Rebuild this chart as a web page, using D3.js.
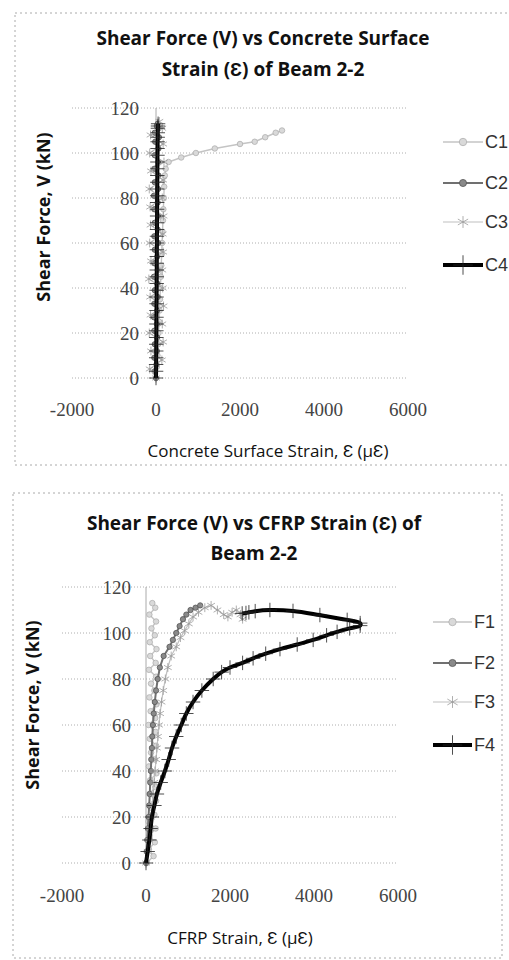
<!DOCTYPE html>
<html lang="en">
<head>
<meta charset="UTF-8">
<title>Beam 2-2 strains</title>
<script src="https://d3js.org/d3.v7.min.js"></script>
<style>
    body { margin: 0; background: #fff; }
    .title { font-family: "Open Sans", sans-serif; font-weight: 700; fill: #111; }
    .axis-title { font-family: "Open Sans", sans-serif; fill: #111; }
    .tick-label { font-family: "Liberation Serif", serif; fill: #444; font-size: 19px; }
    .legend-label { font-family: "Liberation Sans", sans-serif; fill: #333; font-size: 18px; }
</style>
</head>
<body>
<svg id="main" width="509" height="960"></svg>
<script>
    // ---- data: shear force V (kN) and strain (micro-strain) for each gauge ----
    let yTicks = [0, 20, 40, 60, 80, 100, 120];
    let xTicks = [-2000, 0, 2000, 4000, 6000];

    // concrete surface gauges
    let c1V = [0, 5, 10, 15, 20, 25, 30, 35, 40, 45, 50, 55, 60, 65, 70, 75, 80, 85, 90, 93, 96, 98, 100, 102, 104, 105, 107, 109, 110];
    let c1E = [0, 20, 35, 50, 60, 75, 85, 95, 105, 115, 125, 135, 145, 155, 165, 175, 185, 195, 210, 230, 300, 600, 950, 1400, 2000, 2350, 2600, 2850, 3000];
    let c2V = [0, 3, 6, 9, 12, 15, 18, 21, 24, 27, 30, 33, 36, 39, 42, 45, 48, 51, 54, 57, 60, 63, 66, 69, 72, 75, 78, 81, 84, 87, 90, 93, 96, 99, 102, 105, 107, 109, 111, 112, 113];
    let c2E = [0, -30, 10, -40, 20, -30, 30, -40, 20, -50, 30, -40, 40, -30, 30, -50, 40, -40, 30, -30, 50, -40, 40, -30, 50, -40, 40, -50, 50, -30, 60, -40, 50, -30, 60, -20, 70, -30, 60, 20, 40];
    let c3V = [0, 4, 8, 12, 16, 20, 24, 28, 32, 36, 40, 44, 48, 52, 56, 60, 64, 68, 72, 76, 80, 84, 88, 92, 96, 100, 104, 108, 111, 114];
    let c3E = [0, -150, 140, -120, 170, -160, 150, -130, 180, -140, 160, -170, 150, -120, 170, -150, 160, -130, 180, -140, 150, -160, 170, -120, 190, -150, 170, -130, 150, 80];
    let c4V = [0, 3, 6, 9, 12, 15, 18, 21, 24, 27, 30, 33, 36, 39, 42, 45, 48, 51, 54, 57, 60, 63, 66, 69, 72, 75, 78, 81, 84, 87, 90, 93, 96, 99, 102, 105, 107, 109, 111, 112, 113];
    let c4E = [0, 2, 3, 5, 6, 7, 8, 9, 10, 11, 12, 13, 14, 15, 16, 17, 18, 19, 20, 21, 22, 23, 24, 25, 26, 27, 28, 29, 30, 31, 32, 33, 34, 35, 37, 39, 41, 43, 45, 47, 50];

    // CFRP gauges
    let f1V = [0, 3, 6, 9, 12, 15, 18, 21, 24, 27, 30, 33, 36, 39, 42, 45, 48, 51, 54, 57, 60, 63, 66, 69, 72, 75, 78, 81, 84, 87, 90, 93, 96, 99, 102, 105, 108, 111, 113];
    let f1E = [20, 180, 70, 210, 90, 230, 60, 200, 110, 240, 80, 220, 100, 250, 70, 210, 120, 240, 90, 230, 60, 220, 110, 250, 80, 200, 120, 240, 70, 230, 100, 250, 90, 210, 130, 240, 80, 220, 150];
    let f2V = [0, 5, 10, 15, 20, 25, 30, 35, 40, 45, 50, 55, 60, 65, 70, 75, 80, 85, 90, 94, 97, 100, 103, 106, 108, 110, 111, 112];
    let f2E = [0, 15, 30, 45, 60, 75, 90, 100, 115, 125, 140, 150, 165, 185, 210, 240, 280, 330, 420, 560, 640, 720, 800, 880, 960, 1060, 1180, 1290];
    let f3V = [0, 5, 10, 15, 20, 25, 30, 35, 40, 45, 50, 55, 60, 65, 70, 75, 80, 85, 90, 94, 98, 101, 104, 107, 109, 111, 112, 110, 108, 107, 109, 110, 108, 106];
    let f3E = [0, 40, 70, 95, 120, 145, 170, 195, 215, 240, 260, 285, 310, 335, 370, 410, 460, 520, 600, 720, 820, 920, 1020, 1120, 1250, 1400, 1550, 1700, 1850, 1950, 2050, 2150, 2250, 2300];
    let f4V = [0, 5, 10, 15, 20, 25, 30, 35, 40, 45, 50, 55, 60, 65, 70, 75, 80, 83, 85, 87, 89, 91, 93, 95, 97, 99, 100.5, 102, 103.2, 104.3, 105.7, 107.8, 109.6, 110, 109.5, 109, 108.7, 108.5];
    let f4E = [0, 40, 80, 110, 140, 200, 260, 350, 450, 540, 620, 720, 840, 960, 1120, 1330, 1600, 1800, 2000, 2300, 2550, 2850, 3190, 3600, 3980, 4300, 4550, 4850, 5100, 5100, 4790, 4140, 3500, 2950, 2600, 2450, 2380, 2290];

    let topSeries = [
        {name: 'C1', v: c1V, e: c1E},
        {name: 'C2', v: c2V, e: c2E},
        {name: 'C3', v: c3V, e: c3E},
        {name: 'C4', v: c4V, e: c4E}
    ];
    let bottomSeries = [
        {name: 'F1', v: f1V, e: f1E},
        {name: 'F2', v: f2V, e: f2E},
        {name: 'F3', v: f3V, e: f3E},
        {name: 'F4', v: f4V, e: f4E}
    ];

    // styles by series position
    let styles = [
        {stroke: '#c4c4c4', width: 1.4, symbol: d3.symbolCircle, size: 24, fill: '#d9d9d9', mstroke: '#b0b0b0'},
        {stroke: '#707070', width: 2, symbol: d3.symbolCircle, size: 22, fill: '#8a8a8a', mstroke: '#555'},
        {stroke: '#c0c0c0', width: 1.2, symbol: d3.symbolAsterisk, size: 55, fill: 'none', mstroke: '#9a9a9a'},
        {stroke: '#000', width: 4, symbol: d3.symbolPlus, size: 70, fill: 'none', mstroke: '#222', plus: true}
    ];

    let svg = d3.select('#main');

    function drawChart(cfg) {
        let g = svg.append('g');

        g.append('rect')
            .attr('x', cfg.box[0]).attr('y', cfg.box[1])
            .attr('width', cfg.box[2]).attr('height', cfg.box[3])
            .attr('fill', 'none').attr('stroke', '#aaa')
            .attr('stroke-dasharray', '2,3');

        let xScale = d3.scaleLinear().domain([-2000, 6000]).range(cfg.xRange);
        let yScale = d3.scaleLinear().domain([0, 120]).range(cfg.yRange);

        // gridlines
        g.selectAll('.grid').data(yTicks).enter().append('line')
            .attr('x1', cfg.xRange[0]).attr('x2', cfg.xRange[1])
            .attr('y1', d => yScale(d)).attr('y2', d => yScale(d))
            .attr('stroke', '#999').attr('stroke-width', 0.8)
            .attr('stroke-dasharray', '1,2');

        // vertical axis at x = 0
        g.append('line')
            .attr('x1', xScale(0)).attr('x2', xScale(0))
            .attr('y1', yScale(0)).attr('y2', yScale(120))
            .attr('stroke', '#aaa').attr('stroke-width', 1);

        // y tick labels
        g.selectAll('.ylab').data(yTicks).enter().append('text')
            .attr('class', 'tick-label')
            .attr('x', xScale(0) - cfg.yLabGap)
            .attr('y', d => yScale(d))
            .attr('dy', '0.35em')
            .attr('text-anchor', 'end')
            .text(d => d);

        // x tick labels
        g.selectAll('.xlab').data(xTicks).enter().append('text')
            .attr('class', 'tick-label')
            .attr('x', d => xScale(d))
            .attr('y', cfg.xLabY)
            .attr('dy', '0.35em')
            .attr('text-anchor', 'middle')
            .text(d => d);

        // titles
        cfg.title.forEach(function (t, i) {
            g.append('text').attr('class', 'title')
                .attr('x', cfg.titleX).attr('y', cfg.titleY[i])
                .attr('dy', '0.35em').attr('text-anchor', 'middle')
                .style('font-size', '19px')
                .text(t);
        });
        g.append('text').attr('class', 'axis-title')
            .attr('x', cfg.xTitle[0]).attr('y', cfg.xTitle[1])
            .attr('dy', '0.35em').attr('text-anchor', 'middle')
            .style('font-size', '17px')
            .text(cfg.xTitleText);
        g.append('text').attr('class', 'axis-title')
            .attr('transform', 'translate(' + cfg.yTitle[0] + ',' + cfg.yTitle[1] + ') rotate(-90)')
            .attr('dy', '0.35em').attr('text-anchor', 'middle')
            .style('font-size', '18px').style('font-weight', 700)
            .text('Shear Force, V (kN)');

        let straight = d3.line()
            .x(d => xScale(d[0]))
            .y(d => yScale(d[1]));
        let smooth = d3.line()
            .curve(d3.curveCatmullRom)
            .x(d => xScale(d[0]))
            .y(d => yScale(d[1]));

        cfg.series.forEach(function (s, i) {
            let st = styles[i];
            let pts = s.e.map((e, k) => [e, s.v[k]]);
            g.append('path')
                .attr('d', i === 3 ? smooth(pts) : straight(pts))
                .attr('fill', 'none')
                .attr('stroke', st.stroke)
                .attr('stroke-width', st.width)
                .attr('stroke-linejoin', 'round');
            g.selectAll('.m' + i).data(pts).enter().append('path')
                .attr('transform', d => 'translate(' + xScale(d[0]) + ',' + yScale(d[1]) + ')')
                .attr('d', d3.symbol().type(st.symbol).size(st.size))
                .attr('fill', st.fill)
                .attr('stroke', st.mstroke)
                .attr('stroke-width', 0.8);

            // legend
            let ly = cfg.legendY[i];
            g.append('line')
                .attr('x1', cfg.legendX[0]).attr('x2', cfg.legendX[1])
                .attr('y1', ly).attr('y2', ly)
                .attr('stroke', st.stroke).attr('stroke-width', st.width);
            g.append('path')
                .attr('transform', 'translate(' + (cfg.legendX[0] + cfg.legendX[1]) / 2 + ',' + ly + ')')
                .attr('d', d3.symbol().type(st.symbol).size(st.size * 1.8))
                .attr('fill', st.fill).attr('stroke', st.mstroke).attr('stroke-width', 0.8);
            g.append('text').attr('class', 'legend-label')
                .attr('x', cfg.legendX[1] + 2).attr('y', ly)
                .attr('dy', '0.35em')
                .text(s.name);
        });
    }

    drawChart({
        box: [15, 13, 500, 452],
        xRange: [72, 408],
        yRange: [378, 108],
        yLabGap: 17,
        xLabY: 409,
        title: ['Shear Force (V) vs Concrete Surface', 'Strain (\u0190) of Beam 2-2'],
        titleX: 263,
        titleY: [38, 69],
        xTitle: [268, 451],
        xTitleText: 'Concrete Surface Strain, \u0190 (\u03bc\u0190)',
        yTitle: [44, 217],
        legendX: [443, 483],
        legendY: [142, 183, 222, 265],
        series: topSeries
    });

    drawChart({
        box: [13, 493, 489, 465],
        xRange: [62, 398],
        yRange: [863, 587],
        yLabGap: 15,
        xLabY: 895,
        title: ['Shear Force (V) vs CFRP Strain (\u0190) of', 'Beam 2-2'],
        titleX: 254,
        titleY: [523, 553],
        xTitle: [240, 938],
        xTitleText: 'CFRP Strain, \u0190 (\u03bc\u0190)',
        yTitle: [33, 705],
        legendX: [433, 472],
        legendY: [622, 663, 702, 745],
        series: bottomSeries
    });
</script>
</body>
</html>
